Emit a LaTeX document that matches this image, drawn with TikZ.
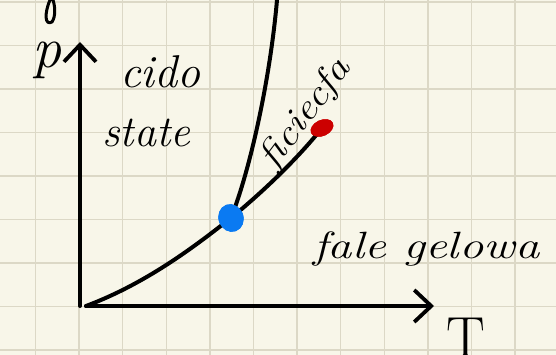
\documentclass[tikz,border=0pt]{standalone}
\usetikzlibrary{arrows.meta,shapes.geometric}
\definecolor{paper}{HTML}{F8F6E9}
\definecolor{gridline}{HTML}{DCD8C6}
\definecolor{tripleblue}{HTML}{0A7AF2}
\definecolor{critred}{HTML}{CC0000}
\tikzset{
  ink/.style={line width=4pt,line cap=round,line join=round},
  axis/.style={ink,-{Straight Barb[length=17pt,width=32pt,line width=3.8pt]}},
  hand/.style={inner sep=0pt,font=\itshape}
}
\begin{document}
\begin{tikzpicture}[x=1pt,y=-1pt]
  \fill[paper] (0,0) rectangle (556,355);
  \useasboundingbox (0,0) rectangle (556,355);
  \foreach \i in {0,...,12} \draw[gridline,line width=1.3pt] (35.5+43.6*\i,0) -- (35.5+43.6*\i,355);
  \foreach \j in {0,...,8} \draw[gridline,line width=1.3pt] (0,2+43.5*\j) -- (556,2+43.5*\j);
  % axes
  \coordinate (ybot) at (80,306); \coordinate (ytop) at (80,42);
  \coordinate (origin) at (86,306); \coordinate (xend) at (434,306);
  \draw[axis] (ybot) -- (ytop);
  \draw[axis] (origin) -- (xend);
  \node[hand,anchor=base,font=\itshape\fontsize{58}{58}\selectfont] (plab) at (47,68) {p};
  \node[hand,anchor=base,font=\fontsize{58}{58}\selectfont] (tlab) at (466,357) {T};
  % phase points
  \node[ellipse,fill=tripleblue,minimum width=25pt,minimum height=28pt,inner sep=0pt,rotate=20] (triple) at (231,218) {};
  \node[ellipse,fill=critred,minimum width=24pt,minimum height=16pt,inner sep=0pt,rotate=25] (crit) at (322,128) {};
  \coordinate (topend) at (277,0);
  \draw[ink] (origin) .. controls (150,282) and (200,242) .. (triple.center);
  \draw[ink] (triple.center) .. controls (265,190) and (298,158) .. (crit.center);
  \draw[ink] (triple.center) .. controls (250,170) and (270,80) .. (topend);
  \node[ellipse,fill=tripleblue,minimum width=25pt,minimum height=28pt,inner sep=0pt,rotate=20] at (triple) {};
  \node[ellipse,fill=critred,minimum width=24pt,minimum height=16pt,inner sep=0pt,rotate=25] at (crit) {};
  % labels
  \node[hand,anchor=base west,font=\itshape\fontsize{46}{46}\selectfont] (solid1) at (120,88) {cido};
  \node[hand,anchor=base west,font=\itshape\fontsize{44}{44}\selectfont] (solid2) at (102,147) {state};
  \node[hand,anchor=base west,font=\itshape\fontsize{38}{38}\selectfont] (liquid) at (313,258) {\scalebox{1.28}[1]{fale gelowa}};
  \node[hand,rotate=53,font=\itshape\fontsize{36}{36}\selectfont] (curvelab) at (306,114) {\scalebox{1.2}[1]{ficiecfa}};
  \draw[ink,line width=3pt] (50,0) .. controls (44,14) and (45,26) .. (52,22) .. controls (56,16) and (55,6) .. (53,0);
\end{tikzpicture}
\end{document}
